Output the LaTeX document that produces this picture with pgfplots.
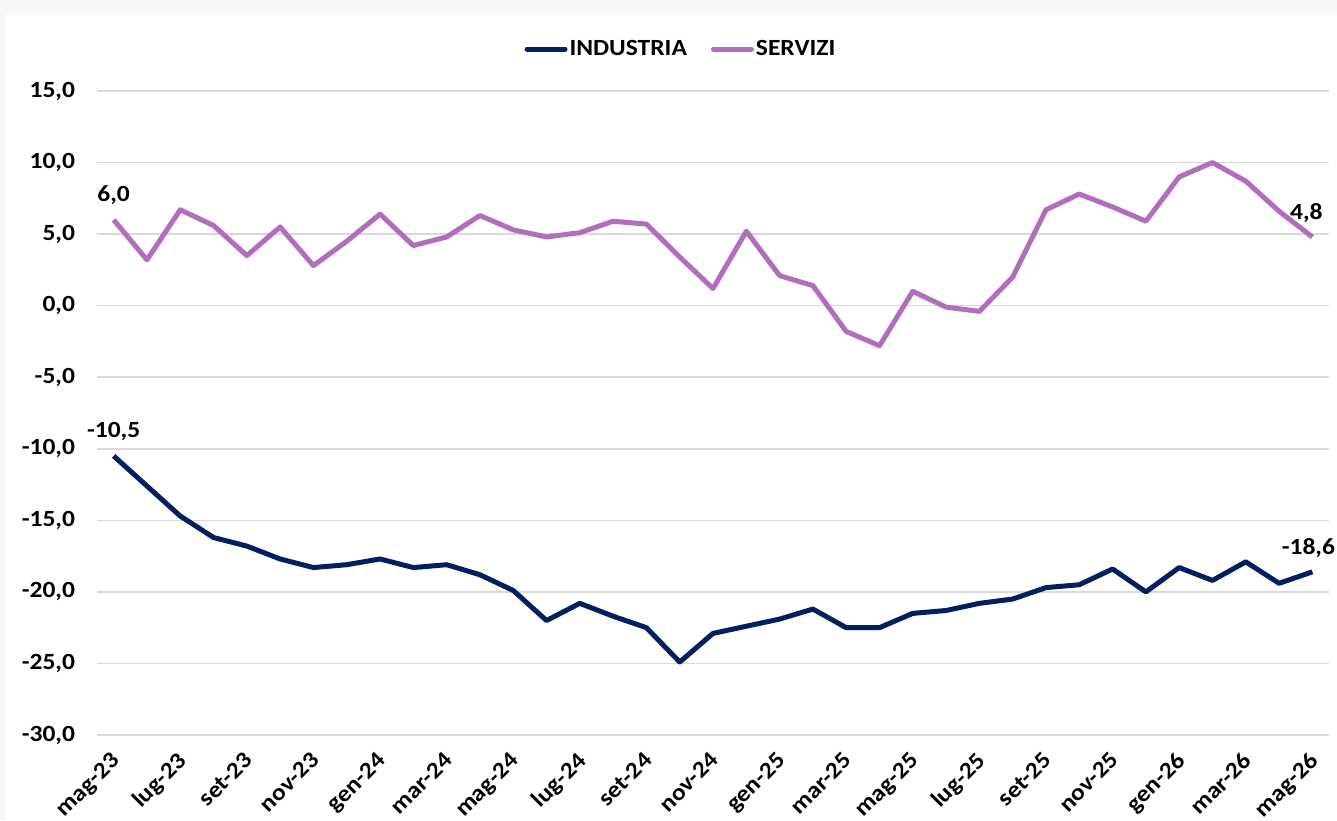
\documentclass[border=0pt]{standalone}
\usepackage{fontspec}
\setmainfont{Carlito}[FakeStretch=1.1]
\usepackage{pgfplots}
\pgfplotsset{compat=1.18}
\definecolor{navy}{RGB}{0,32,96}
\definecolor{viola}{RGB}{178,110,188}
\definecolor{bgc}{RGB}{247,247,247}
\definecolor{gridc}{RGB}{217,217,217}
\newcommand\lbl{\fontsize{11.6bp}{13bp}\selectfont\bfseries}
\begin{document}
\begin{tikzpicture}[x=1bp,y=1bp]
\fill[bgc] (0,0) rectangle (668.5,410);
\fill[white] (3,0) rectangle (668.5,403);
\path[use as bounding box] (0,0) rectangle (668.5,410);
\begin{axis}[
  at={(48.5bp,42.5bp)}, anchor=south west,
  scale only axis, width=616bp, height=322bp,
  xmin=-0.5, xmax=36.5, ymin=-30, ymax=15,
  clip=false,
  axis line style={draw=none},
  major tick length=0pt,
  ymajorgrids, grid style={gridc, line width=0.75bp},
  ytick={-30,-25,...,15},
  yticklabels={{-30,0},{-25,0},{-20,0},{-15,0},{-10,0},{-5,0},{0,0},{5,0},{10,0},{15,0}},
  yticklabel style={font=\lbl, anchor=east, xshift=-7.5bp},
  xtick={0,2,...,36},
  xticklabels={mag-23,lug-23,set-23,nov-23,gen-24,mar-24,mag-24,lug-24,set-24,nov-24,gen-25,mar-25,mag-25,lug-25,set-25,nov-25,gen-26,mar-26,mag-26},
  xticklabel style={font=\lbl, xshift=-2bp, yshift=-3bp, rotate=45, anchor=north east},
  legend style={at={(0.474,1.065)}, anchor=center, draw=none, fill=none,
    font=\lbl, legend columns=2,
    /tikz/every even column/.append style={column sep=11bp},
    nodes={inner xsep=1bp}},
  legend image code/.code={\draw[#1, line width=2.5bp, line cap=round] (0bp,0bp) -- (19bp,0bp);},
  every axis plot/.append style={line width=2.5bp, line join=round},
]
\addplot[navy, mark=none] coordinates {
(0,-10.5) (1,-12.6) (2,-14.7) (3,-16.2) (4,-16.8) (5,-17.7) (6,-18.3) (7,-18.1) (8,-17.7) (9,-18.3)
(10,-18.1) (11,-18.8) (12,-19.9) (13,-22.0) (14,-20.8) (15,-21.7) (16,-22.5) (17,-24.9) (18,-22.9) (19,-22.4)
(20,-21.9) (21,-21.2) (22,-22.5) (23,-22.5) (24,-21.5) (25,-21.3) (26,-20.8) (27,-20.5) (28,-19.7) (29,-19.5)
(30,-18.4) (31,-20.0) (32,-18.3) (33,-19.2) (34,-17.9) (35,-19.4) (36,-18.6)
} node[pos=0, yshift=12bp, font=\lbl, text=black]{-10,5}
  node[pos=1, yshift=12bp, xshift=-2bp, font=\lbl, text=black]{-18,6};
\addlegendentry{INDUSTRIA}
\addplot[viola, mark=none] coordinates {
(0,6.0) (1,3.2) (2,6.7) (3,5.6) (4,3.5) (5,5.5) (6,2.8) (7,4.5) (8,6.4) (9,4.2)
(10,4.8) (11,6.3) (12,5.3) (13,4.8) (14,5.1) (15,5.9) (16,5.7) (17,3.4) (18,1.2) (19,5.2)
(20,2.1) (21,1.4) (22,-1.8) (23,-2.8) (24,1.0) (25,-0.1) (26,-0.4) (27,2.0) (28,6.7) (29,7.8)
(30,6.9) (31,5.9) (32,9.0) (33,10.0) (34,8.7) (35,6.6) (36,4.8)
} node[pos=0, yshift=12.5bp, font=\lbl, text=black]{6,0}
  node[pos=1, yshift=12bp, xshift=-3bp, font=\lbl, text=black]{4,8};
\addlegendentry{SERVIZI}
\end{axis}
\end{tikzpicture}
\end{document}
